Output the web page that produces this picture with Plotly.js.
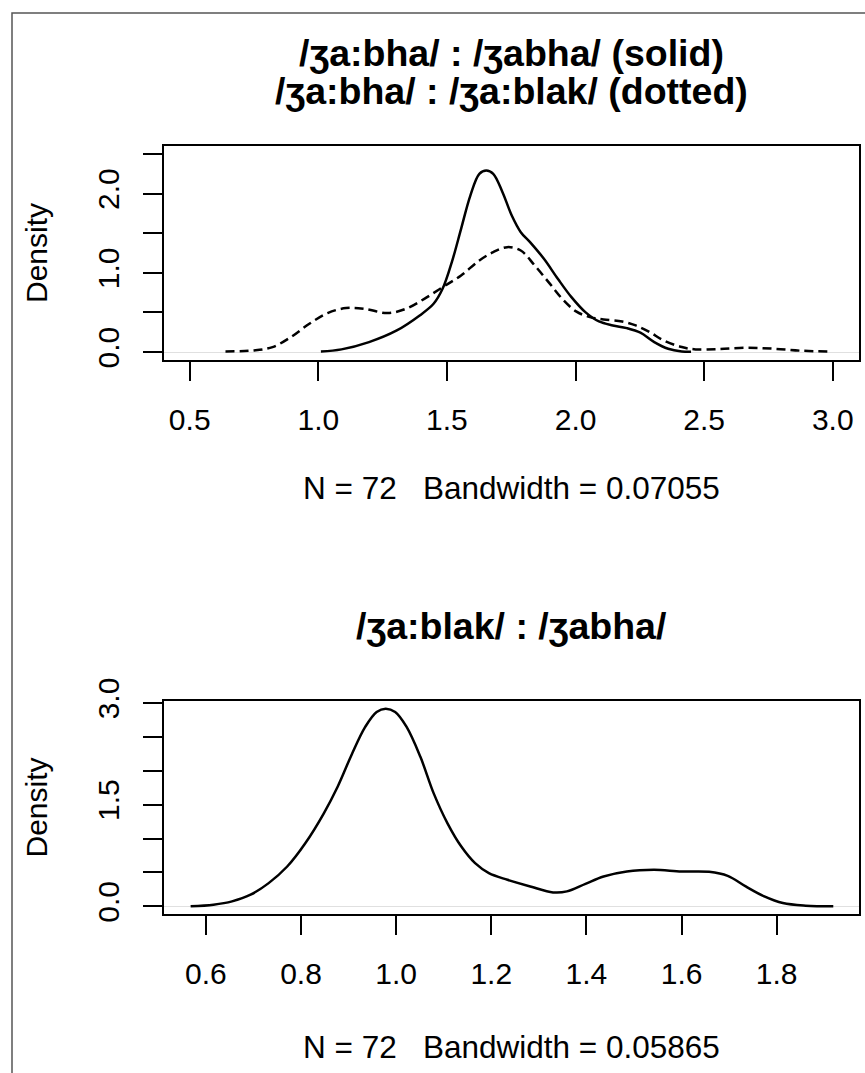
<!DOCTYPE html>
<html><head><meta charset="utf-8">
<script src="https://cdn.plot.ly/plotly-3.0.1.min.js"></script>
<style>html,body{margin:0;padding:0;background:#fff}</style>
</head><body><div id="chart" style="width:865px;height:1073px"></div>
<script>
// Top panel: /ʒa:bha/ : /ʒabha/ (solid)
const solidX = [1.010,1.090,1.197,1.305,1.394,1.448,1.483,1.519,1.555,1.591,1.626,1.653,1.680,1.716,1.752,1.787,1.823,1.877,1.931,1.984,2.038,2.091,2.145,2.199,2.252,2.306,2.360,2.413,2.449];
const solidY = [0.008,0.034,0.126,0.273,0.462,0.609,0.798,1.135,1.555,1.975,2.249,2.291,2.249,2.017,1.723,1.513,1.387,1.177,0.925,0.693,0.504,0.386,0.336,0.302,0.244,0.126,0.042,0.008,0.004];
// Top panel: /ʒa:bha/ : /ʒa:blak/ (dotted)
const dashX = [0.639,0.750,0.822,0.893,0.965,1.036,1.108,1.179,1.269,1.340,1.412,1.483,1.555,1.626,1.680,1.734,1.787,1.841,1.895,1.948,2.002,2.056,2.109,2.181,2.234,2.288,2.342,2.413,2.467,2.556,2.663,2.771,2.878,2.985];
const dashY = [0.008,0.021,0.063,0.189,0.357,0.492,0.555,0.546,0.492,0.546,0.672,0.819,0.967,1.156,1.261,1.324,1.282,1.093,0.883,0.672,0.513,0.441,0.412,0.386,0.336,0.252,0.147,0.063,0.034,0.038,0.055,0.042,0.017,0.008];
// Bottom panel: /ʒa:blak/ : /ʒabha/
const botX = [0.568,0.616,0.655,0.694,0.732,0.771,0.809,0.848,0.877,0.906,0.935,0.959,0.978,0.998,1.022,1.051,1.079,1.108,1.137,1.166,1.195,1.234,1.282,1.330,1.359,1.398,1.436,1.485,1.542,1.600,1.658,1.697,1.735,1.774,1.813,1.861,1.919];
const botY = [0.000,0.025,0.074,0.172,0.343,0.588,0.931,1.373,1.765,2.230,2.647,2.868,2.917,2.868,2.647,2.206,1.667,1.225,0.882,0.637,0.490,0.392,0.294,0.206,0.221,0.333,0.441,0.515,0.539,0.515,0.510,0.451,0.294,0.147,0.049,0.010,0.000];

const topXTicks = [0.5,1.0,1.5,2.0,2.5,3.0];
const topXText = ["0.5","1.0","1.5","2.0","2.5","3.0"];
const topYTicks = [0,0.5,1.0,1.5,2.0,2.5];
const topYText = ["0.0","","1.0","","2.0",""];
const botXTicks = [0.6,0.8,1.0,1.2,1.4,1.6,1.8];
const botXText = ["0.6","0.8","1.0","1.2","1.4","1.6","1.8"];
const botYTicks = [0,0.5,1.0,1.5,2.0,2.5,3.0];
const botYText = ["0.0","","","1.5","","","3.0"];

const titleTop1 = "/ʒa:bha/ : /ʒabha/ (solid)";
const titleTop2 = "/ʒa:bha/ : /ʒa:blak/ (dotted)";
const titleBot = "/ʒa:blak/ : /ʒabha/";
const subTop = "N = 72   Bandwidth = 0.07055";
const subBot = "N = 72   Bandwidth = 0.05865";

const FONT = "Liberation Sans, Arial, Helvetica, sans-serif";
const W = 865, H = 1073;
const px = v => v / W, py = v => 1 - v / H;

function axisBase(extra) {
  return Object.assign({
    showline: true, mirror: true, linecolor: '#000', linewidth: 2,
    ticks: 'outside', ticklen: 19, tickwidth: 2, tickcolor: '#000',
    showgrid: false, zeroline: false, fixedrange: true,
    tickfont: {family: FONT, size: 30, color: '#000'}
  }, extra);
}

const data = [
  {x: solidX, y: solidY, type: 'scatter', mode: 'lines', xaxis: 'x', yaxis: 'y',
   line: {color: '#000', width: 2.5, shape: 'spline', smoothing: 1}, hoverinfo: 'skip'},
  {x: dashX, y: dashY, type: 'scatter', mode: 'lines', xaxis: 'x', yaxis: 'y',
   line: {color: '#000', width: 2.5, dash: '9px,5px', shape: 'spline', smoothing: 1}, hoverinfo: 'skip'},
  {x: botX, y: botY, type: 'scatter', mode: 'lines', xaxis: 'x2', yaxis: 'y2',
   line: {color: '#000', width: 2.5, shape: 'spline', smoothing: 1}, hoverinfo: 'skip'}
];

const dx = [px(164), px(858.5)];
const titleFont = {family: FONT, size: 37.5, color: '#000', weight: 'bold'};
const subFont = {family: FONT, size: 31.5, color: '#000'};
const layout = {
  width: W, height: H, showlegend: false,
  margin: {l: 0, r: 0, t: 0, b: 0},
  paper_bgcolor: '#fff', plot_bgcolor: '#fff',
  font: {family: FONT, color: '#000'},
  xaxis: axisBase({domain: dx, range: [0.4, 3.1], anchor: 'y',
    tickvals: topXTicks, ticktext: topXText, ticklabelstandoff: 13}),
  yaxis: axisBase({domain: [py(360), py(146)], range: [-0.1, 2.6], anchor: 'x',
    tickvals: topYTicks, ticktext: topYText, tickangle: -90, ticklabelstandoff: 12,
    zeroline: true, zerolinecolor: '#e0e0e0', zerolinewidth: 1,
    title: {text: 'Density', font: {family: FONT, size: 30, color: '#000'}, standoff: 36}}),
  xaxis2: axisBase({domain: dx, range: [0.512, 1.972], anchor: 'y2',
    tickvals: botXTicks, ticktext: botXText, ticklabelstandoff: 13}),
  yaxis2: axisBase({domain: [py(914.3), py(700.7)], range: [-0.117, 3.034], anchor: 'x2',
    tickvals: botYTicks, ticktext: botYText, tickangle: -90, ticklabelstandoff: 12,
    zeroline: true, zerolinecolor: '#e0e0e0', zerolinewidth: 1,
    title: {text: 'Density', font: {family: FONT, size: 30, color: '#000'}, standoff: 36}}),
  shapes: [
    {type: 'rect', xref: 'paper', yref: 'paper', x0: px(12), x1: 1.2, y0: -0.2, y1: py(13),
     line: {color: '#555', width: 1.5}, layer: 'below'}
  ],
  annotations: [
    {text: titleTop1, xref: 'paper', yref: 'paper', x: (dx[0]+dx[1])/2, y: py(53), xanchor: 'center', yanchor: 'middle',
     showarrow: false, font: titleFont},
    {text: titleTop2, xref: 'paper', yref: 'paper', x: (dx[0]+dx[1])/2, y: py(91), xanchor: 'center', yanchor: 'middle',
     showarrow: false, font: titleFont},
    {text: titleBot, xref: 'paper', yref: 'paper', x: (dx[0]+dx[1])/2, y: py(626), xanchor: 'center', yanchor: 'middle',
     showarrow: false, font: titleFont},
    {text: subTop, xref: 'paper', yref: 'paper', x: (dx[0]+dx[1])/2, y: py(488), xanchor: 'center', yanchor: 'middle',
     showarrow: false, font: subFont},
    {text: subBot, xref: 'paper', yref: 'paper', x: (dx[0]+dx[1])/2, y: py(1047), xanchor: 'center', yanchor: 'middle',
     showarrow: false, font: subFont}
  ]
};

Plotly.newPlot('chart', data, layout, {staticPlot: true, displayModeBar: false});
</script></body></html>
